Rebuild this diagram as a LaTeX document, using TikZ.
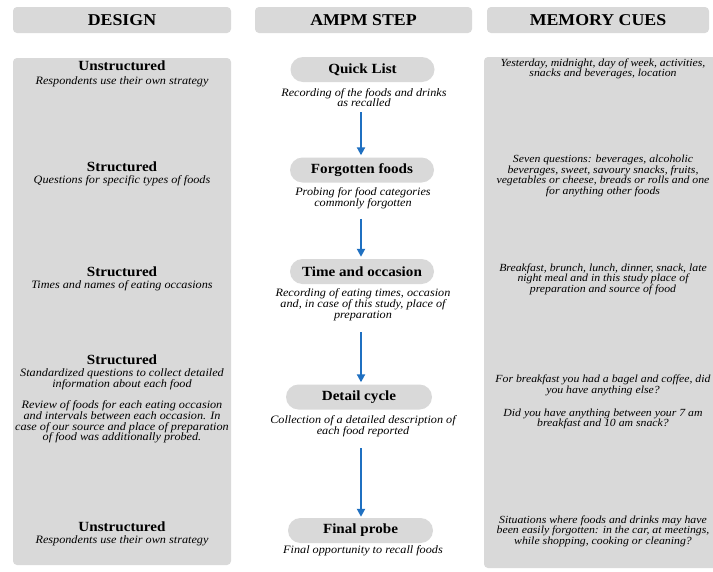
\documentclass[tikz,border=0pt]{standalone}
\usepackage{fontspec}
\setmainfont{Liberation Serif}[FakeStretch=1.08]
\usetikzlibrary{arrows.meta,calc}
\definecolor{boxgray}{HTML}{D9D9D9}
\definecolor{arrowblue}{HTML}{1F70C1}
\tikzset{
  header/.style={fill=boxgray, rounded corners=4pt, minimum height=26pt, inner sep=0pt,
    font=\fontsize{16.5}{18}\selectfont\bfseries},
  panel/.style={fill=boxgray, rounded corners=4pt, inner sep=0pt},
  pill/.style={fill=boxgray, rounded corners=12.5pt, minimum height=25pt, minimum width=144pt,
    inner sep=0pt, font=\fontsize{14}{15}\selectfont\bfseries},
  ttl/.style={inner sep=0pt, font=\fontsize{14}{15}\selectfont\bfseries},
  desc/.style={inner sep=0pt, align=center, font=\fontsize{11.3}{10.8}\selectfont\itshape},
  cue/.style={inner sep=0pt, align=center, font=\fontsize{10.9}{10.6}\selectfont\itshape},
  flow/.style={draw=arrowblue, line width=2pt, -{Triangle[width=8pt,length=8pt]}}
}
\begin{document}
\begin{tikzpicture}[x=1pt,y=-1pt]
\clip (0,0) rectangle (713,571);
\fill[white] (0,0) rectangle (713,571);
% headers
\node[header, minimum width=218pt] (hdesign) at (122,20) {DESIGN};
\node[header, minimum width=217pt] (hstep) at (363.5,20) {AMPM STEP};
\node[header, minimum width=222pt] (hcues) at (598,20) {MEMORY CUES};
% panels
\node[panel, minimum width=218pt, minimum height=507pt] (pdesign) at (122,311.5) {};
\node[panel, minimum width=256pt, minimum height=511pt] (pcues) at (612,312.5) {};
% design column
\node[ttl] (t1) at (122,66) {Unstructured};
\node[desc] (d1) at (122,82) {Respondents use their own strategy};
\node[ttl] (t2) at (122,167) {Structured};
\node[desc] (d2) at (122,181) {Questions for specific types of foods};
\node[ttl] (t3) at (122,272) {Structured};
\node[desc] (d3) at (122,286) {Times and names of eating occasions};
\node[ttl] (t4) at (122,360) {Structured};
\node[desc] (d4) at (122,379.5) {Standardized questions to collect detailed\\information about each food};
\node[desc] (d4b) at (122,422) {Review of foods for each eating occasion\\and intervals between each occasion. In\\case of our source and place of preparation\\of food was additionally probed.};
\node[ttl] (t5) at (122,527) {Unstructured};
\node[desc] (d5) at (122,541) {Respondents use their own strategy};
% AMPM steps
\node[pill] (quick) at (362.5,69.5) {Quick List};
\node[desc] (qdesc) at (364,97.5) {Recording of the foods and drinks\\as recalled};
\node[pill] (forgot) at (362,170) {Forgotten foods};
\node[desc] (fdesc) at (363,198) {Probing for food categories\\commonly forgotten};
\node[pill] (time) at (362,271.5) {Time and occasion};
\node[desc] (tdesc) at (363,305) {Recording of eating times, occasion\\and, in case of this study, place of\\preparation};
\node[pill, minimum width=146pt] (detail) at (359,397) {Detail cycle};
\node[desc] (ddesc) at (363,426.5) {Collection of a detailed description of\\each food reported};
\node[pill, minimum width=145pt] (final) at (360.5,530.5) {Final probe};
\node[desc] (pdesc) at (363,551) {Final opportunity to recall foods};
% arrows
\draw[flow] ($(qdesc.south -| 361,0)+(0,5)$) -- ($(forgot.north -| 361,0)+(0,-2)$);
\draw[flow] ($(fdesc.south -| 361,0)+(0,10)$) -- ($(time.north -| 361,0)+(0,-2)$);
\draw[flow] ($(tdesc.south -| 361,0)+(0,11)$) -- ($(detail.north -| 361,0)+(0,-2)$);
\draw[flow] ($(ddesc.south -| 361,0)+(0,11)$) -- ($(final.north -| 361,0)+(0,-1)$);
% memory cues
\node[cue] (r1) at (603,69) {Yesterday, midnight, day of week, activities,\\snacks and beverages, location};
\node[cue] (r2) at (603,176) {Seven questions: beverages, alcoholic\\beverages, sweet, savoury snacks, fruits,\\vegetables or cheese, breads or rolls and one\\for anything other foods};
\node[cue] (r3) at (603,279) {Breakfast, brunch, lunch, dinner, snack, late\\night meal and in this study place of\\preparation and source of food};
\node[cue] (r4) at (603,385.5) {For breakfast you had a bagel and coffee, did\\you have anything else?};
\node[cue] (r4b) at (603,419) {Did you have anything between your 7 am\\breakfast and 10 am snack?};
\node[cue] (r5) at (603,531) {Situations where foods and drinks may have\\been easily forgotten: in the car, at meetings,\\while shopping, cooking or cleaning?};
\end{tikzpicture}
\end{document}
